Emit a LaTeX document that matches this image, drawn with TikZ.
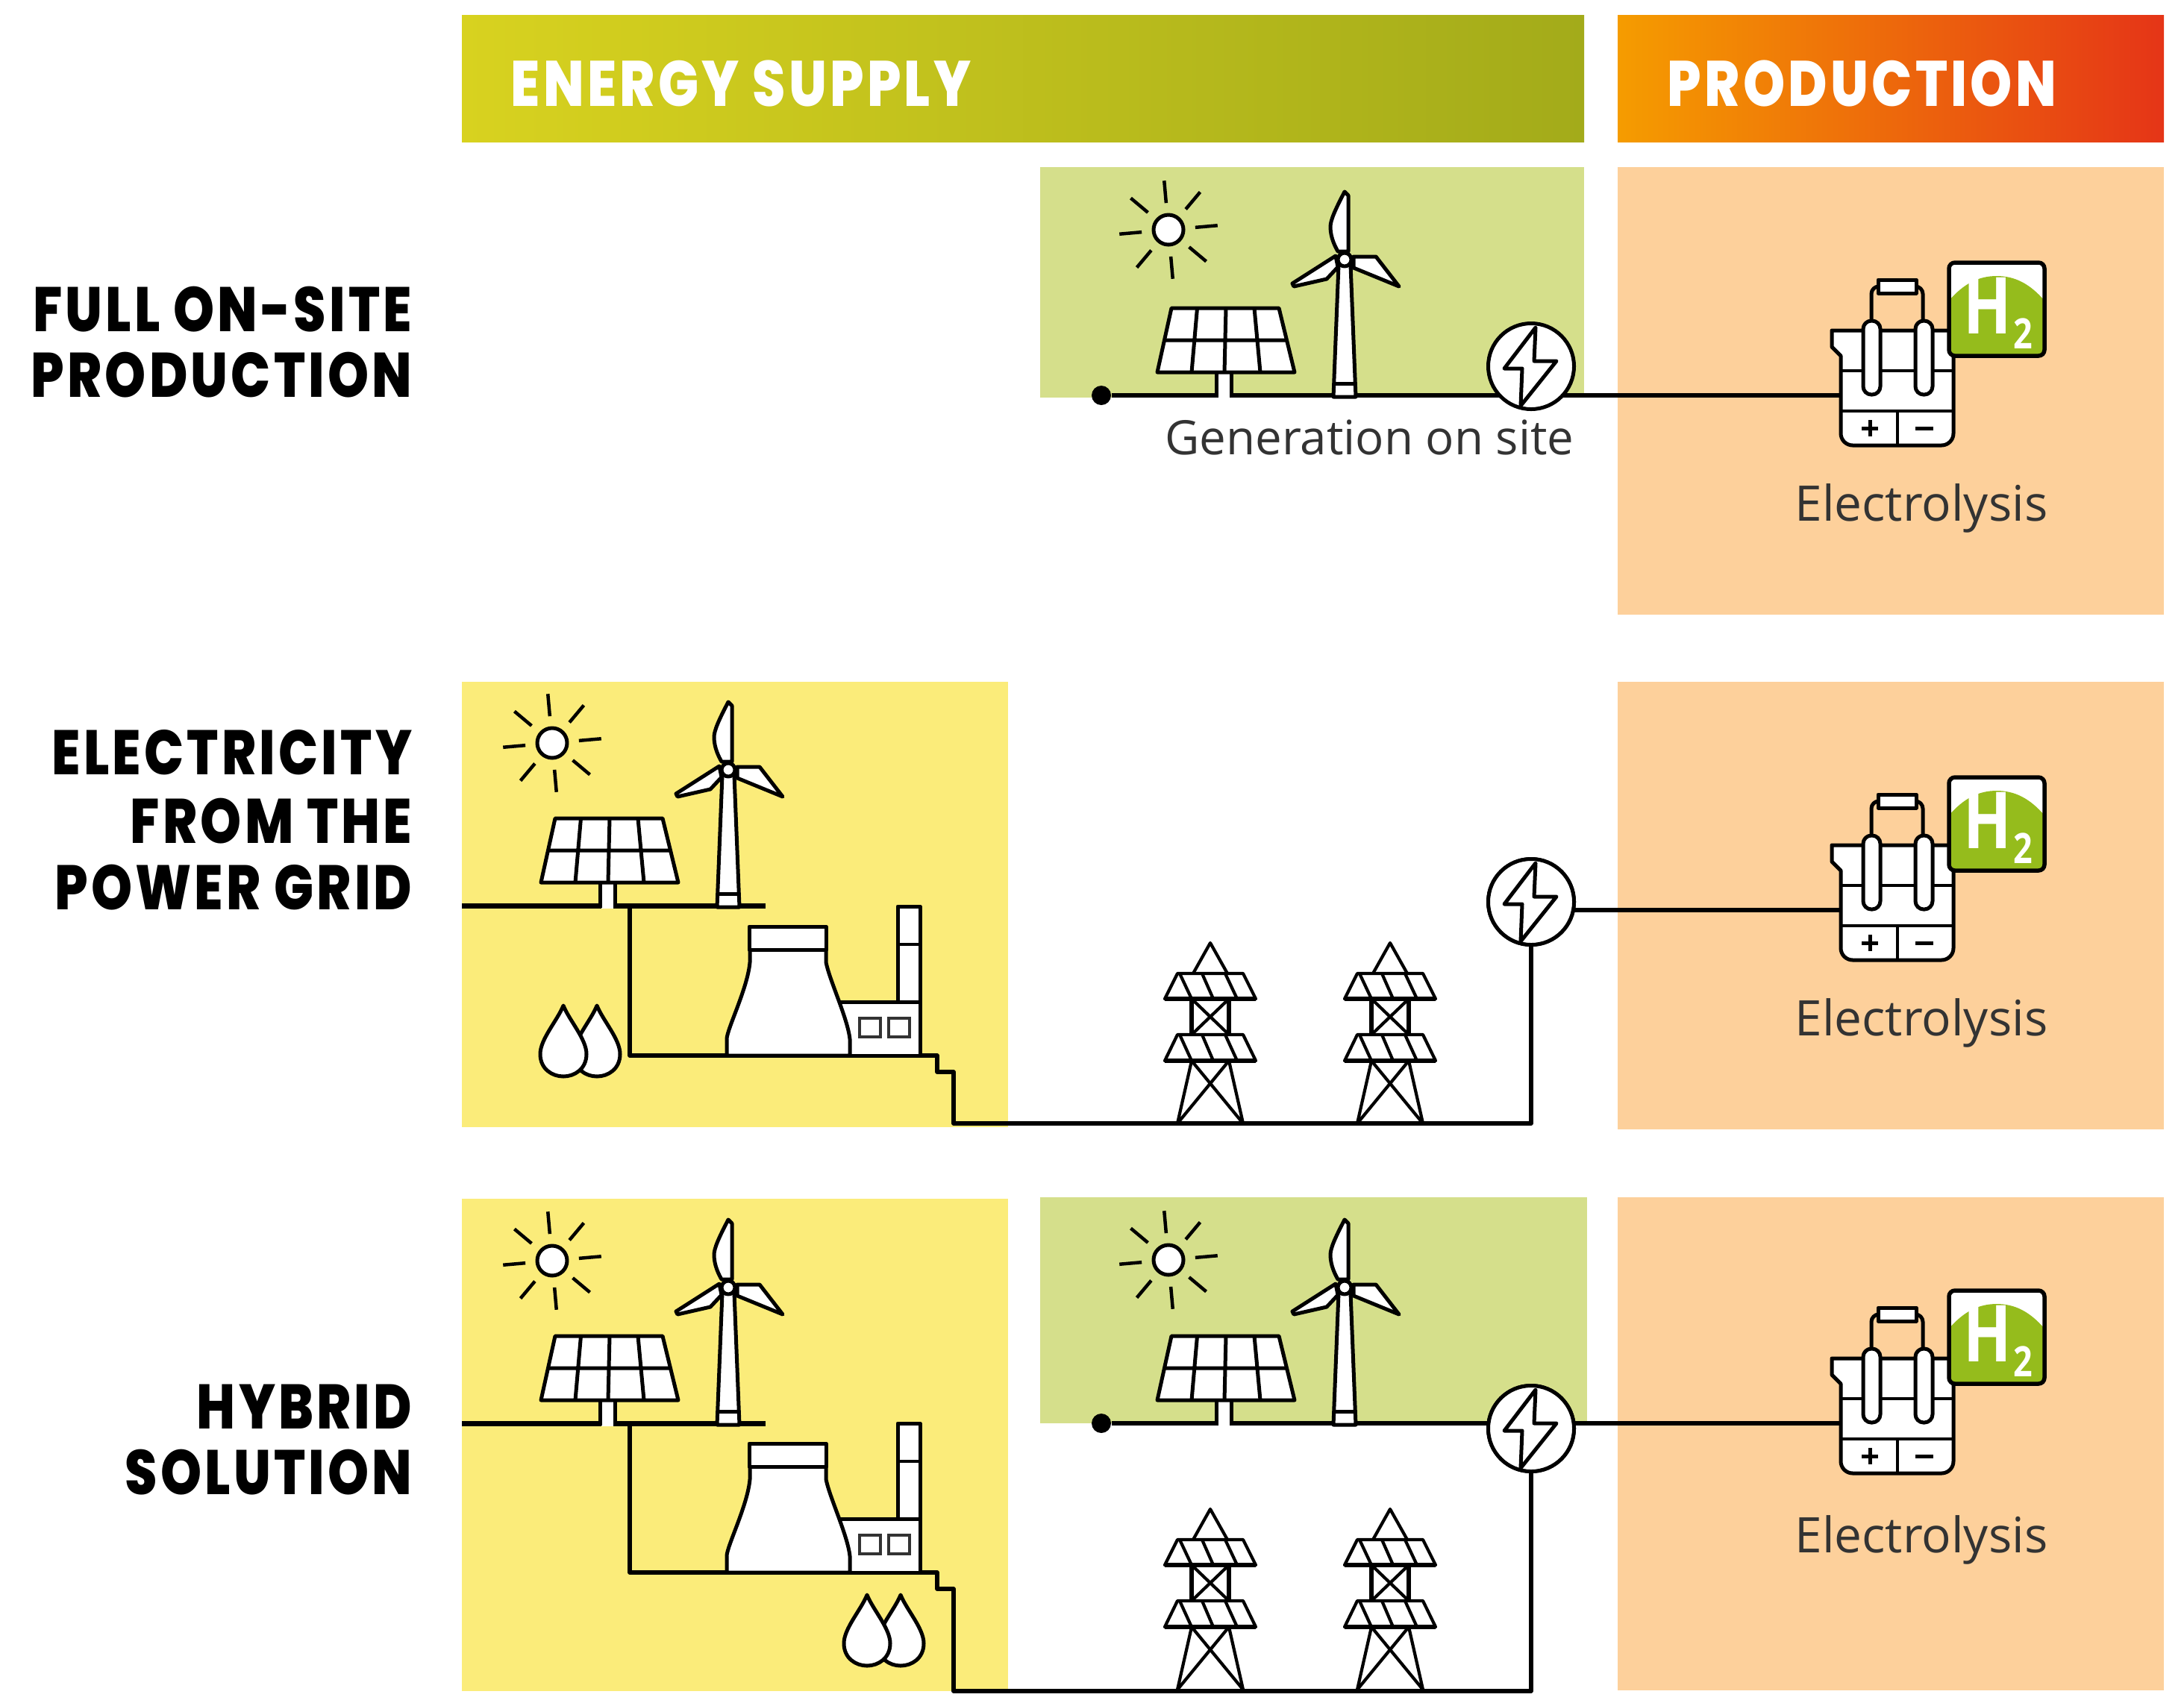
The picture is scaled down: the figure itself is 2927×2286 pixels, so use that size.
\documentclass[tikz,border=0pt]{standalone}
\usepackage{fontspec}
\setmainfont{Open Sans}
\newfontfamily\headfont{Poppins}[LetterSpace=5,FakeStretch=0.83,BoldFont={Poppins ExtraBold}]
\newfontfamily\gasfont{Open Sans}[FakeStretch=0.8]
\definecolor{sitegreen}{HTML}{D5DF8B}
\definecolor{gridyellow}{HTML}{FBEC7A}
\definecolor{cellorange}{HTML}{FDD09B}
\definecolor{gasgreen}{HTML}{95BC1C}
\tikzset{
    wire/.style={line width=0.55mm,draw=black},
    outline/.style={line width=0.5mm,draw=black,fill=white,line join=round},
    rowlabel/.style={font=\headfont\bfseries\fontsize{24}{24}\selectfont,anchor=east,inner sep=0pt},
    bandlabel/.style={font=\headfont\bfseries\fontsize{24.5}{25}\selectfont,text=white,anchor=west,inner sep=0pt},
    caption/.style={font=\fontsize{18.7}{19}\selectfont,text=black!80,inner sep=0pt},
    hub/.style={circle,minimum size=11.5mm,inner sep=0pt,line width=0.5mm,draw=black,fill=white},
    dot/.style={circle,minimum size=2.6mm,inner sep=0pt,fill=black},
    sun/.pic={
        \draw[outline] (0,0) circle (20);
        \foreach \a in {5,50,...,320}
            \draw[line width=0.45mm] ({36*cos(\a)},{-36*sin(\a)}) -- ({66*cos(\a)},{-66*sin(\a)});
    },
    solar/.pic={
        \fill[white] (-8,-31) rectangle (8,4);
        \draw[line width=0.5mm] (-10,-31) -- (-10,3) (10,-31) -- (10,3);
        \draw[outline] (-70,-117) -- (74,-117) -- (95,-31) -- (-89,-31) -- cycle;
        \draw[line width=0.5mm] (-79.5,-74) -- (84.5,-74)
            (-35.5,-117) -- (-43,-31) (3,-117) -- (1,-31) (41,-117) -- (49,-31);
    },
    turbine/.pic={
        \draw[outline] (-8,-175) -- (8,-175) -- (15,2) -- (-15,2) -- cycle;
        \draw[line width=0.5mm] (-14,-16) -- (14,-16);
        \draw[outline] (0,-273) .. controls (-12,-250) and (-19,-235) .. (-19,-226)
            .. controls (-19,-212) and (-13,-200) .. (-9,-193) -- (5,-193) -- (5,-268) -- cycle;
        \draw[outline] (-12,-187) -- (-70,-150) -- (-68,-146) -- (-24,-156) -- (-9,-172) -- cycle;
        \draw[outline] (12,-186) -- (42,-186) -- (73,-146) -- (12,-171) -- cycle;
        \draw[outline] (0,-182) circle (9);
    },
    bolt/.pic={
        \draw[line width=0.5mm,line join=round] (6,-52) -- (-36,3) -- (-12,3) -- (-14,53)
            -- (34,-7) -- (4,-7) -- cycle;
    },
    plant/.pic={
        \draw[outline] (359,-72) -- (359,-200) -- (389,-200) -- (389,-72);
        \draw[line width=0.4mm] (359,-149) -- (389,-149);
        \draw[outline] (280,-72) rectangle (389,0);
        \draw[line width=0.45mm,draw=black!80] (308,-50) rectangle (336,-25) (347,-50) rectangle (375,-25);
        \draw[outline] (161,-142) -- (161,-125) .. controls (158,-90) and (130,-35) .. (130,-22)
            -- (130,0) -- (295,0) -- (295,-22) .. controls (292,-50) and (268,-100) .. (263,-125)
            -- (263,-142) -- cycle;
        \draw[outline] (160,-173) rectangle (263,-142);
    },
    drop/.pic={
        \draw[outline] (0,-95) .. controls (-8,-75) and (-31,-50) .. (-31,-30)
            .. controls (-31,-10) and (-15,0) .. (0,0) .. controls (15,0) and (31,-10) .. (31,-30)
            .. controls (31,-50) and (8,-75) .. cycle;
    },
    pylon/.pic={
        \begin{scope}[line width=0.42mm,line join=round]
            \draw (-23,-201) -- (0,-242) -- (23,-201);
            \foreach \t/\b in {-201/-167,-119/-84} {
                \draw (-44,\t) -- (44,\t) -- (61,\b) -- (-61,\b) -- cycle;
                \draw (-41,\t) -- (-25,\b) (-11,\t) -- (4,\b) (20,\t) -- (36,\b);
            }
            \draw[line width=0.6mm] (-25,-167) -- (-25,-119) (25,-167) -- (25,-119)
                (-61,-167) -- (61,-167) (-61,-84) -- (61,-84);
            \draw (-25,-167) -- (25,-119) (25,-167) -- (-25,-119);
            \draw (-25,-84) -- (-44,0) (25,-84) -- (44,0)
                (-25,-84) -- (44,0) (25,-84) -- (-44,0);
        \end{scope}
    },
    cell/.pic={
        \draw[line width=0.5mm,rounded corners=1mm] (41,-100) -- (41,-146) -- (55,-146);
        \draw[line width=0.5mm,rounded corners=1mm] (110,-100) -- (110,-146) -- (96,-146);
        \draw[outline] (50,-155) rectangle (101,-137);
        \draw[outline] (-12,-87) -- (-12,-65) -- (0,-53) -- (0,30) [rounded corners=1.6mm] -- (0,67)
            -- (151,67) [sharp corners] -- (151,-87) -- cycle;
        \draw[line width=0.4mm] (0,-33) -- (151,-33) (0,21) -- (151,21) (76,21) -- (76,67);
        \draw[line width=0.5mm] (28,44) -- (50,44) (39,33) -- (39,55) (100,44) -- (124,44);
        \draw[outline,rounded corners=1.1mm] (30,-100) rectangle (53,-1);
        \draw[outline,rounded corners=1.1mm] (100,-100) rectangle (123,-1);
        \begin{scope}
            \clip[rounded corners=0.8mm] (145,-178) rectangle (273,-53);
            \fill[white] (145,-178) rectangle (273,-53);
            \fill[gasgreen] (145,-127) .. controls (165,-150) and (185,-160) .. (209,-160)
                .. controls (233,-160) and (253,-150) .. (273,-127) -- (273,-53) -- (145,-53) -- cycle;
        \end{scope}
        \draw[line width=0.55mm,rounded corners=0.8mm] (145,-178) rectangle (273,-53);
        \node[inner sep=0pt,text=white,font=\gasfont\bfseries\fontsize{30}{30}\selectfont] (-h) at (197,-120) {H};
        \node[inner sep=0pt,text=white,font=\gasfont\bfseries\fontsize{16}{16}\selectfont] (-two) at (244,-83) {2};
    },
}
\begin{document}
\begin{tikzpicture}[x=0.1mm,y=-0.1mm]
    \useasboundingbox (0,0) rectangle (2927,2286);

    % Header bands
    \shade[left color={rgb,255:red,216;green,210;blue,31},right color={rgb,255:red,163;green,171;blue,26}] (619,20) rectangle (2123,190);
    \shade[left color={rgb,255:red,245;green,156;blue,0},right color={rgb,255:red,229;green,53;blue,23}] (2168,20) rectangle (2900,190);
    \node[bandlabel] (supply) at (684,112) {ENERGY SUPPLY};
    \node[bandlabel] (production) at (2234,112) {PRODUCTION};

    % Background panels
    \fill[sitegreen] (1394,224) rectangle (2123,533);
    \fill[gridyellow] (619,914) rectangle (1351,1511);
    \fill[gridyellow] (619,1607) rectangle (1351,2267);
    \fill[sitegreen] (1394,1605) rectangle (2127,1908);
    \fill[cellorange] (2168,224) rectangle (2900,824);
    \fill[cellorange] (2168,914) rectangle (2900,1514);
    \fill[cellorange] (2168,1605) rectangle (2900,2266);

    % Row labels
    \node[rowlabel] (fulla) at (553,415) {FULL ON-SITE};
    \node[rowlabel] (fullb) at (553,503) {PRODUCTION};
    \node[rowlabel] (grida) at (553,1009) {ELECTRICITY};
    \node[rowlabel] (gridb) at (553,1101) {FROM THE};
    \node[rowlabel] (gridc) at (553,1190) {POWER GRID};
    \node[rowlabel] (hybrida) at (553,1886) {HYBRID};
    \node[rowlabel] (hybridb) at (553,1974) {SOLUTION};

    % Full on-site production
    \node[dot] (dot1) at (1476,530) {};
    \coordinate (cell1) at (2467,530);
    \draw[wire] (dot1) -- (cell1);
    \pic at (1566,308) {sun};
    \pic at (1640,530) {solar};
    \pic at (1802,530) {turbine};
    \node[hub] (hub1) at (2052,491) {};
    \pic at (hub1) {bolt};
    \node[caption,anchor=east,font=\fontsize{18.1}{19}\selectfont] (site) at (2110,586) {Generation on site};
    \pic (stacka) at (cell1) {cell};
    \node[caption] (elec1) at (2575,681) {Electrolysis};

    % Electricity from the power grid
    \coordinate (pvl2) at (619,1214);
    \coordinate (pvr2) at (1026,1214);
    \coordinate (feed2) at (844,1214);
    \coordinate (plant2) at (844,1415);
    \coordinate (down2) at (1278,1506);
    \coordinate (tap2) at (2052,1220);
    \coordinate (cell2) at (2467,1220);
    \node[hub] (hub2) at (2052,1209) {};
    \draw[wire,line width=0.7mm] (pvl2) -- (pvr2);
    \draw[wire,line join=round] (feed2) -- (plant2) -- ++(412,0) -- ++(0,22) -- ++(22,0) -- (down2) -| (hub2);
    \draw[wire] (tap2) -- (cell2);
    \node[hub] (hub2) at (2052,1209) {};
    \pic at (hub2) {bolt};
    \pic at (740,996) {sun};
    \pic at (814,1214) {solar};
    \pic at (976,1214) {turbine};
    \pic at (plant2) {plant};
    \pic at (800,1443) {drop};
    \pic at (755,1443) {drop};
    \pic at (1622,1506) {pylon};
    \pic at (1863,1506) {pylon};
    \pic (stackb) at (cell2) {cell};
    \node[caption] (elec2) at (2575,1371) {Electrolysis};

    % Hybrid solution
    \coordinate (pvl3) at (619,1908);
    \coordinate (pvr3) at (1026,1908);
    \coordinate (feed3) at (844,1908);
    \coordinate (plant3) at (844,2108);
    \coordinate (down3) at (1278,2267);
    \node[dot] (dot3) at (1476,1908) {};
    \coordinate (cell3) at (2467,1908);
    \node[hub] (hub3) at (2052,1915) {};
    \draw[wire] (dot3) -- (cell3);
    \draw[wire,line width=0.7mm] (pvl3) -- (pvr3);
    \draw[wire,line join=round] (feed3) -- (plant3) -- ++(412,0) -- ++(0,22) -- ++(22,0) -- (down3) -| (hub3);
    \node[hub] (hub3) at (2052,1915) {};
    \pic at (hub3) {bolt};
    \pic at (740,1690) {sun};
    \pic at (814,1908) {solar};
    \pic at (976,1908) {turbine};
    \pic at (plant3) {plant};
    \pic at (1207,2233) {drop};
    \pic at (1162,2233) {drop};
    \pic at (1566,1689) {sun};
    \pic at (1640,1908) {solar};
    \pic at (1802,1908) {turbine};
    \pic at (1622,2265) {pylon};
    \pic at (1863,2265) {pylon};
    \pic (stackc) at (cell3) {cell};
    \node[caption] (elec3) at (2575,2064) {Electrolysis};

\end{tikzpicture}
\end{document}
